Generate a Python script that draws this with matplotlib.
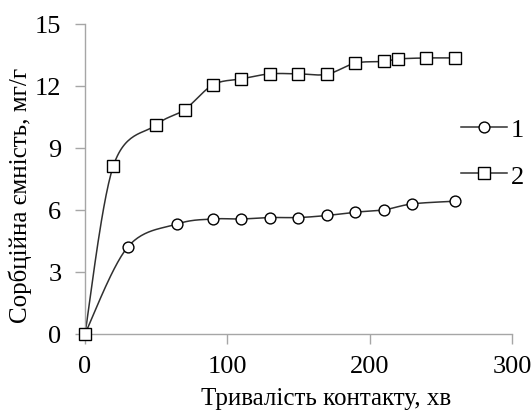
import numpy as np
import matplotlib
matplotlib.use("Agg")
import matplotlib.pyplot as plt
from matplotlib.lines import Line2D

plt.rcParams['font.family'] = ['Liberation Serif', 'DejaVu Serif']

# data
t1 = [0, 30, 65, 90, 110, 130, 150, 170, 190, 210, 230, 260]
q1 = [0, 4.2, 5.32, 5.56, 5.56, 5.63, 5.63, 5.73, 5.89, 6.0, 6.29, 6.42]
t2 = [0, 20, 50, 70, 90, 110, 130, 150, 170, 190, 210, 220, 240, 260]
q2 = [0, 8.14, 10.11, 10.85, 12.05, 12.34, 12.58, 12.58, 12.56, 13.1, 13.18, 13.3, 13.35, 13.35]
labels = ['1', '2']
xlabel = 'Тривалість контакту, хв'
ylabel = 'Сорбційна ємність, мг/г'


def smooth(x, y, n=30):
    # Excel-like smoothed line: cubic Bezier with Catmull-Rom control points
    x = np.asarray(x, float); y = np.asarray(y, float)
    px = np.concatenate([[x[0]], x, [x[-1]]])
    py = np.concatenate([[y[0]], y, [y[-1]]])
    xs, ys = [], []
    s = np.linspace(0, 1, n)
    for i in range(1, len(px) - 2):
        p0 = np.array([px[i], py[i]]); p3 = np.array([px[i + 1], py[i + 1]])
        c1 = p0 + (np.array([px[i + 1], py[i + 1]]) - np.array([px[i - 1], py[i - 1]])) / 6
        c2 = p3 - (np.array([px[i + 2], py[i + 2]]) - np.array([px[i], py[i]])) / 6
        b = ((1 - s) ** 3)[:, None] * p0 + (3 * (1 - s) ** 2 * s)[:, None] * c1 \
            + (3 * (1 - s) * s ** 2)[:, None] * c2 + (s ** 3)[:, None] * p3
        xs.extend(b[:, 0]); ys.extend(b[:, 1])
    return np.array(xs), np.array(ys)


fig = plt.figure(figsize=(5.31, 4.14), dpi=100)
ax = fig.add_axes([0.160, 0.191, 0.804, 0.749])

lc = '#303030'
for t, q, m, ms in [(t1, q1, 'o', 7.8), (t2, q2, 's', 8.2)]:
    sx, sy = smooth(t, q)
    ax.plot(sx, sy, color=lc, lw=1.1, clip_on=False, zorder=2)
    ax.plot(t, q, linestyle='none', marker=m, ms=ms, mfc='white', mec='black',
            mew=1.0, clip_on=False, zorder=3)

ax.set_xlim(0, 300)
ax.set_ylim(0, 15)
ax.set_xticks([0, 100, 200, 300])
ax.set_yticks([0, 3, 6, 9, 12, 15])

for sp in ['top', 'right']:
    ax.spines[sp].set_visible(False)
for sp in ['left', 'bottom']:
    ax.spines[sp].set_color('#a6a6a6')
    ax.spines[sp].set_linewidth(1.0)
ax.tick_params(axis='both', direction='out', length=7, width=1.0, color='#a6a6a6',
               labelsize=19, labelcolor='black')
ax.tick_params(axis='y', pad=10)
ax.tick_params(axis='x', pad=8)

ax.set_xlabel(xlabel, fontsize=18)
ax.xaxis.set_label_coords(0.564, -0.172)
ax.set_ylabel(ylabel, fontsize=18)
ax.yaxis.set_label_coords(-0.125, 0.45)

handles = [Line2D([], [], color=lc, lw=1.1, marker='o', ms=7.8, mfc='white', mec='black'),
           Line2D([], [], color=lc, lw=1.1, marker='s', ms=8.2, mfc='white', mec='black')]
fig.legend(handles, labels, loc='center left', bbox_to_anchor=(0.868, 0.629),
           frameon=False, fontsize=19, handlelength=1.75, handletextpad=0.15,
           labelspacing=0.88, borderaxespad=0, borderpad=0)

fig.savefig('out.png', dpi=100)
